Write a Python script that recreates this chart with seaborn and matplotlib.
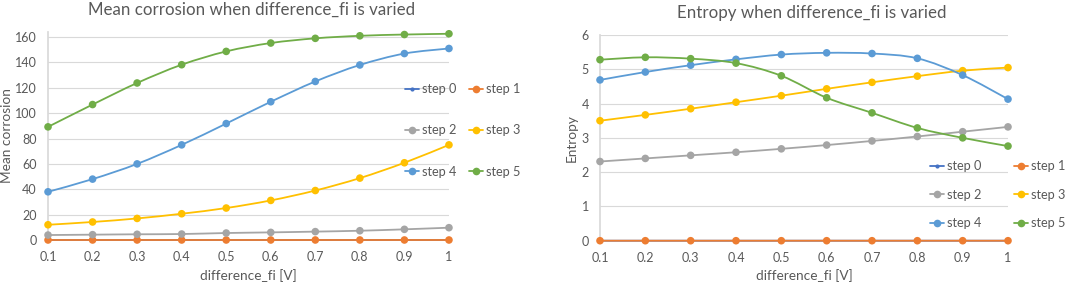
import numpy as np
import pandas as pd
import matplotlib.pyplot as plt
import seaborn as sns
from matplotlib.path import Path
from matplotlib.patches import PathPatch
from matplotlib.lines import Line2D

# Datos
x_vals = [0.1, 0.2, 0.3, 0.4, 0.5, 0.6, 0.7, 0.8, 0.9, 1.0]
x_labels = ['0.1', '0.2', '0.3', '0.4', '0.5', '0.6', '0.7', '0.8', '0.9', '1']
pasos = ['step 0', 'step 1', 'step 2', 'step 3', 'step 4', 'step 5']

corr_step0 = [0, 0, 0, 0, 0, 0, 0, 0, 0, 0]
corr_step1 = [0, 0, 0, 0, 0, 0, 0, 0, 0, 0]
corr_step2 = [3.9, 4.2, 4.5, 4.7, 5.5, 6.0, 6.6, 7.3, 8.4, 9.7]
corr_step3 = [12.0, 14.2, 17.0, 20.7, 25.2, 31.2, 39.0, 48.8, 60.9, 75.0]
corr_step4 = [38.0, 48.0, 60.0, 75.0, 91.8, 109.0, 125.0, 138.0, 147.0, 151.0]
corr_step5 = [89.2, 106.8, 123.8, 138.2, 148.7, 155.3, 159.0, 161.0, 162.0, 162.6]

ent_step0 = [0, 0, 0, 0, 0, 0, 0, 0, 0, 0]
ent_step1 = [0, 0, 0, 0, 0, 0, 0, 0, 0, 0]
ent_step2 = [2.31, 2.40, 2.49, 2.58, 2.68, 2.79, 2.91, 3.04, 3.18, 3.32]
ent_step3 = [3.50, 3.67, 3.85, 4.04, 4.23, 4.43, 4.62, 4.80, 4.96, 5.05]
ent_step4 = [4.69, 4.92, 5.12, 5.29, 5.43, 5.48, 5.46, 5.32, 4.83, 4.13]
ent_step5 = [5.28, 5.35, 5.31, 5.18, 4.81, 4.17, 3.73, 3.29, 3.00, 2.76]

colores = ['#4472C4', '#ED7D31', '#A5A5A5', '#FFC000', '#5B9BD5', '#70AD47']
gris_texto = '#595959'


def curva_suave(ax, xs, ys, color, z):
    # linea suavizada tipo Excel (Bezier por Catmull-Rom)
    pts = np.column_stack([xs, ys]).astype(float)
    n = len(pts)
    verts = [pts[0]]
    codes = [Path.MOVETO]
    for i in range(n - 1):
        p0 = pts[max(i - 1, 0)]
        p1 = pts[i]
        p2 = pts[i + 1]
        p3 = pts[min(i + 2, n - 1)]
        verts += [p1 + (p2 - p0) / 6, p2 - (p3 - p1) / 6, p2]
        codes += [Path.CURVE4] * 3
    ax.add_patch(PathPatch(Path(verts, codes), fill=False, edgecolor=color,
                           lw=1.3, zorder=z, clip_on=False))


def dibujar_panel(ax, series, ymax, yticks, ylabel, ylabel_x):
    df = pd.DataFrame({'x': x_vals * len(pasos),
                       'valor': sum(series, []),
                       'serie': np.repeat(pasos, len(x_vals))})
    for i, paso in enumerate(pasos):
        sub = df[df['serie'] == paso]
        curva_suave(ax, sub['x'], sub['valor'], colores[i], 2 + i)
        sns.scatterplot(data=sub, x='x', y='valor', color=colores[i],
                        s=10 if i == 0 else 30, edgecolor='none', ax=ax,
                        zorder=2.5 + i, clip_on=False, legend=False)
    ax.set_xlim(0.1, 1.0)
    ax.set_ylim(0, ymax)
    ax.set_xticks(x_vals)
    ax.set_xticklabels(x_labels)
    ax.set_yticks(yticks)
    ax.grid(axis='y', color='#D9D9D9', lw=0.8)
    ax.grid(axis='x', visible=False)
    for lado in ['top', 'right', 'bottom']:
        ax.spines[lado].set_visible(False)
    ax.spines['left'].set_color('#D9D9D9')
    ax.tick_params(axis='both', length=0, labelsize=9, labelcolor=gris_texto, pad=8)
    ax.set_xlabel('difference_fi [V]', fontsize=9.8, color=gris_texto)
    ax.xaxis.set_label_coords(0.5, -0.14)
    ax.set_ylabel(ylabel, fontsize=9.8, color=gris_texto)
    ax.yaxis.set_label_coords(ylabel_x, 0.5)


sns.set_theme(style="white")
plt.rcParams['font.family'] = ['Lato', 'DejaVu Sans']

fig = plt.figure(figsize=(10.72, 2.87), dpi=100)
ax1 = fig.add_axes([0.0448, 0.1638, 0.374, 0.7247])
ax2 = fig.add_axes([0.5597, 0.1613, 0.3806, 0.7167])

dibujar_panel(ax1, [corr_step0, corr_step1, corr_step2, corr_step3, corr_step4, corr_step5],
              164, [0, 20, 40, 60, 80, 100, 120, 140, 160], 'Mean corrosion', -0.087)
dibujar_panel(ax2, [ent_step0, ent_step1, ent_step2, ent_step3, ent_step4, ent_step5],
              6, [0, 1, 2, 3, 4, 5, 6], 'Entropy', -0.054)

fig.text(252 / 1072, 1 - 10 / 287, 'Mean corrosion when difference_fi is varied',
         ha='center', va='center', fontsize=12.2, color=gris_texto)
fig.text(812 / 1072, 1 - 13 / 287, 'Entropy when difference_fi is varied',
         ha='center', va='center', fontsize=12.2, color=gris_texto)

# leyendas: orden por columnas para que quede step0 step1 / step2 step3 / step4 step5
orden = [0, 2, 4, 1, 3, 5]
handles = [Line2D([0], [0], color=colores[i], lw=1.3, marker='o',
                  markersize=3 if i == 0 else 5.5, markeredgewidth=0) for i in orden]
etiquetas = [pasos[i] for i in orden]

fig.legend(handles, etiquetas, ncol=2, loc='upper left', frameon=False,
           bbox_to_anchor=(405 / 1072, 1 - 83 / 287), fontsize=9.2, labelcolor=gris_texto,
           handlelength=1.1, handletextpad=0.2, columnspacing=1.0, labelspacing=2.3,
           borderpad=0, borderaxespad=0)
fig.legend(handles, etiquetas, ncol=2, loc='upper left', frameon=False,
           bbox_to_anchor=(930 / 1072, 1 - 160 / 287), fontsize=9.2, labelcolor=gris_texto,
           handlelength=1.1, handletextpad=0.2, columnspacing=2.6, labelspacing=1.3,
           borderpad=0, borderaxespad=0)

fig.savefig('out.png', dpi=100)
